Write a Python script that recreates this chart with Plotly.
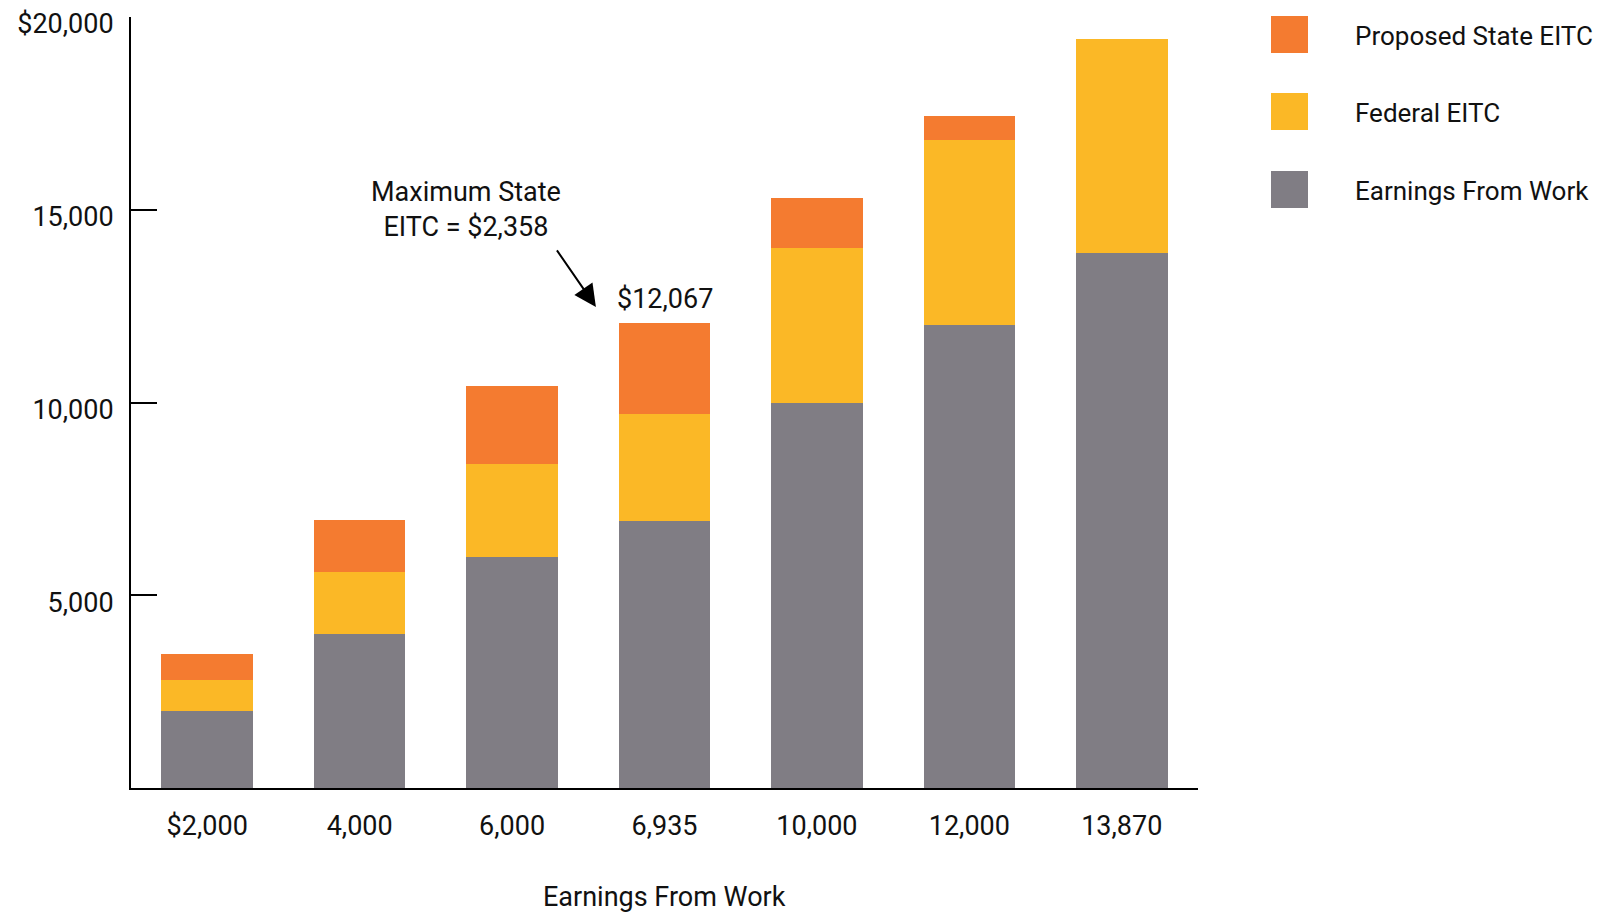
import plotly.graph_objects as go

categories = ["$2,000", "4,000", "6,000", "6,935", "10,000", "12,000", "13,870"]
earnings = [2000, 4000, 6000, 6935, 10000, 12000, 13870]
federal_eitc = [800, 1600, 2400, 2774, 4000, 4800, 5548]
state_eitc = [680, 1360, 2040, 2358, 1316, 636, 0]

y_tickvals = [5000, 10000, 15000, 20000]
y_ticktext = ["5,000", "10,000", "15,000", "$20,000"]

series_names = ["Earnings From Work", "Federal EITC", "Proposed State EITC"]
colors = ["#807D84", "#FBB826", "#F47B30"]

FONT = "Roboto, Liberation Sans, sans-serif"
FS = 27

fig = go.Figure()
for name, vals, col in zip(series_names, [earnings, federal_eitc, state_eitc], colors):
    fig.add_trace(go.Bar(x=categories, y=vals, name=name, marker=dict(color=col, line=dict(width=0)),
                         width=0.6, showlegend=False))

W, H = 1605, 914
ml, mr, mt, mb = 131, 407, 17, 126
PW, PH = W - ml - mr, H - mt - mb

fig.update_layout(
    width=W, height=H,
    margin=dict(l=ml, r=mr, t=mt, b=mb, autoexpand=False),
    barmode="stack",
    plot_bgcolor="white", paper_bgcolor="white",
    font=dict(family=FONT, size=FS, color="#111111"),
    xaxis=dict(showline=True, linecolor="black", linewidth=2, ticks="", showgrid=False,
               tickfont=dict(size=FS), range=[-0.5, 6.5], automargin=False,
               ticklabelstandoff=13),
    yaxis=dict(showline=True, linecolor="black", linewidth=2, range=[0, 20000],
               tickvals=y_tickvals, ticktext=y_ticktext, ticks="inside", ticklen=26,
               tickwidth=2, tickcolor="black", showgrid=False, zeroline=False,
               tickfont=dict(size=FS), ticklabelstandoff=10, ticklabelshift=7,
               automargin=False),
)

# X axis title
fig.add_annotation(xref="paper", yref="paper", x=0.5, y=-(897 - (H - mb)) / PH,
                   text="Earnings From Work", showarrow=False, yanchor="middle",
                   font=dict(size=FS))

# Total label above the 6,935 bar
idx = categories.index("6,935")
total = earnings[idx] + federal_eitc[idx] + state_eitc[idx]
fig.add_annotation(x=categories[idx], y=total, text=f"${total:,}", showarrow=False,
                   yanchor="bottom", yshift=6, font=dict(size=FS))

# Callout text
fig.add_annotation(x=1.70, y=15000, text="Maximum State<br>EITC = $" + f"{state_eitc[idx]:,}",
                   showarrow=False, align="center", font=dict(size=FS))
# Arrow
fig.add_annotation(x=2.55, y=12480, text="", showarrow=True, arrowhead=2, arrowsize=2.2,
                   arrowwidth=2, arrowcolor="black", ax=-40, ay=-58)

# Custom legend (top-right)
legend_items = list(zip(series_names, colors))[::-1]
y_tops = [16, 93, 171]
for (name, col), yt in zip(legend_items, y_tops):
    x0 = (1271 - ml) / PW
    x1 = (1308 - ml) / PW
    y0 = 1 - (yt - mt) / PH
    y1 = 1 - (yt + 37 - mt) / PH
    fig.add_shape(type="rect", xref="paper", yref="paper", x0=x0, x1=x1, y0=y1, y1=y0,
                  fillcolor=col, line=dict(width=0))
    fig.add_annotation(xref="paper", yref="paper", x=(1353 - ml) / PW,
                       y=1 - (yt + 20 - mt) / PH, text=name, showarrow=False,
                       xanchor="left", yanchor="middle", font=dict(size=26))

fig.write_html("out.html")
